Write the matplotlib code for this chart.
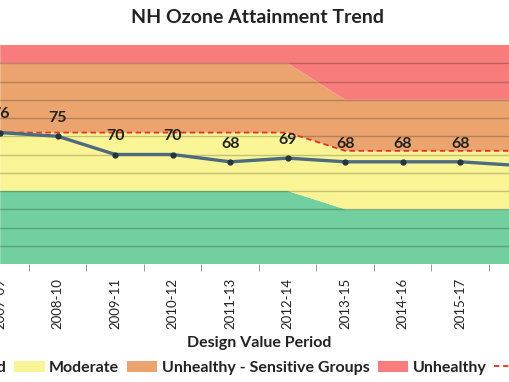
import matplotlib.pyplot as plt
import numpy as np

plt.rcParams['font.family'] = ['Lato', 'DejaVu Sans']

# design value periods and ozone design values (ppb)
periods = ['2007-09', '2008-10', '2009-11', '2010-12', '2011-13',
           '2012-14', '2013-15', '2014-16', '2015-17', '2016-18']
values = [76, 75, 70, 70, 68, 69, 68, 68, 68, 67]

# AQI band tops for each period (old 2008 standard, then 2015 standard)
good_top = [60, 60, 60, 60, 60, 60, 55, 55, 55, 55]
moderate_top = [76, 76, 76, 76, 76, 76, 71, 71, 71, 71]
usg_top = [95, 95, 95, 95, 95, 95, 85, 85, 85, 85]
standard = [76, 76, 76, 76, 76, 76, 71, 71, 71, 71]

y_min, y_max = 40, 100

c_good = '#72cf9f'
c_mod = '#faf594'
c_usg = '#eba46e'
c_unh = '#f87c7c'

fig = plt.figure(figsize=(5.10, 3.82), dpi=100)
ax = fig.add_axes([-28.5 / 510, 118 / 382, 575 / 510, 219 / 382])

x = np.arange(len(periods))
ax.fill_between(x, y_min, good_top, color=c_good, lw=0, label='Good')
ax.fill_between(x, good_top, moderate_top, color=c_mod, lw=0, label='Moderate')
ax.fill_between(x, moderate_top, usg_top, color=c_usg, lw=0,
                label='Unhealthy - Sensitive Groups')
ax.fill_between(x, usg_top, y_max, color=c_unh, lw=0, label='Unhealthy')

for g in np.arange(y_min + 5, y_max, 5):
    ax.axhline(g, color='#000000', alpha=0.22, lw=1, zorder=1)

ax.plot(x, standard, color='#e8321e', ls=(0, (3, 2)), lw=1.3, zorder=3, label='NAAQS')
ax.plot(x, values, color='#4c6b80', lw=2.4, zorder=4)
ax.plot(x, values, 'o', color='#253540', ms=3.5, zorder=5)

for xi, v in zip(x, values):
    ax.annotate(str(v), (xi, v), xytext=(0, 8), textcoords='offset points',
                ha='center', va='bottom', fontsize=11.5, fontweight='bold', color='#222222')

ax.set_xlim(-0.5, len(periods) - 0.5)
ax.set_ylim(y_min, y_max)
ax.set_xticks(x)
ax.set_xticklabels(periods, rotation=90, fontsize=9.5, color='#222222')
ax.set_xticks(np.arange(-0.5, len(periods), 1), minor=True)
ax.tick_params(axis='x', which='major', length=0, pad=10)
ax.tick_params(axis='x', which='minor', length=5, color='#888888')
ax.tick_params(axis='y', left=False, labelleft=False)
for s in ax.spines.values():
    s.set_visible(False)

ax.set_xlabel('Design Value Period', fontsize=11.5, fontweight='bold', color='#222222', labelpad=5)
fig.text(0.505, 0.955, 'NH Ozone Attainment Trend', ha='center', va='center',
         fontsize=14, fontweight='bold', color='#222222')

leg = ax.legend(loc='upper center', bbox_to_anchor=(0.5, -0.375), ncol=5, frameon=False,
                fontsize=11.5, handlelength=1.9, handleheight=0.7, columnspacing=0.5,
                handletextpad=0.28)
for t in leg.get_texts():
    t.set_fontweight('bold')
    t.set_color('#222222')

fig.savefig('out.png', dpi=100)
